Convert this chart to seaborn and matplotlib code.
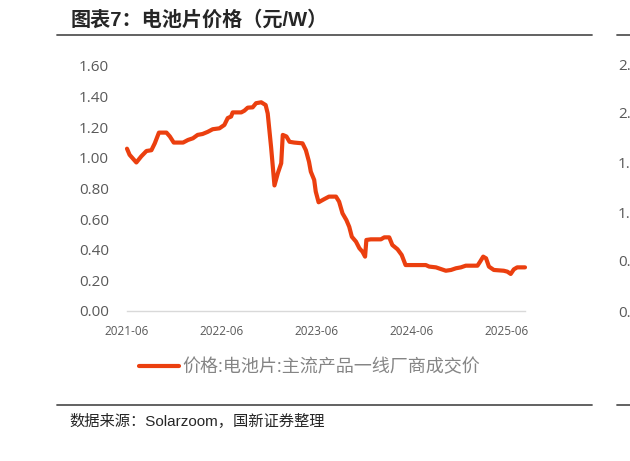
import pandas as pd
import seaborn as sns
import matplotlib.pyplot as plt
from matplotlib.lines import Line2D

# cell price (yuan/W)
dates = [
    '2021-06-02', '2021-06-12', '2021-07-08', '2021-07-27', '2021-08-16', '2021-09-04',
    '2021-09-17', '2021-10-03', '2021-11-01', '2021-11-14', '2021-11-29', '2022-01-04',
    '2022-01-23', '2022-02-11', '2022-03-01', '2022-03-20', '2022-04-09', '2022-04-28',
    '2022-05-24', '2022-06-12', '2022-06-25', '2022-07-08', '2022-07-14', '2022-08-16',
    '2022-08-28', '2022-09-10', '2022-09-29', '2022-10-12', '2022-11-01', '2022-11-18',
    '2022-11-26', '2022-12-09', '2022-12-22', '2023-01-04', '2023-01-17', '2023-01-23',
    '2023-02-06', '2023-02-18', '2023-03-08', '2023-04-09', '2023-04-22', '2023-05-04',
    '2023-05-11', '2023-05-24', '2023-05-30', '2023-06-10', '2023-07-01', '2023-07-20',
    '2023-08-16', '2023-08-28', '2023-09-10', '2023-09-25', '2023-10-06', '2023-10-16',
    '2023-11-01', '2023-11-14', '2023-11-26', '2023-12-06', '2023-12-11', '2023-12-28',
    '2024-02-05', '2024-02-18', '2024-03-08', '2024-03-20', '2024-04-09', '2024-04-25',
    '2024-05-10', '2024-07-27', '2024-08-09', '2024-09-04', '2024-09-23', '2024-10-12',
    '2024-11-01', '2024-11-20', '2024-12-09', '2024-12-28', '2025-02-11', '2025-02-21',
    '2025-03-05', '2025-03-16', '2025-03-27', '2025-04-15', '2025-05-23', '2025-06-06',
    '2025-06-19', '2025-07-01', '2025-07-14', '2025-08-13',
]
price = [
    1.06, 1.02, 0.97, 1.01, 1.045, 1.05,
    1.095, 1.165, 1.165, 1.14, 1.10, 1.10,
    1.117, 1.128, 1.15, 1.156, 1.17, 1.187,
    1.193, 1.215, 1.26, 1.27, 1.297, 1.297,
    1.308, 1.328, 1.33, 1.357, 1.363, 1.345,
    1.29, 1.07, 0.82, 0.90, 0.965, 1.15,
    1.14, 1.105, 1.10, 1.095, 1.05, 0.975,
    0.91, 0.856, 0.78, 0.71, 0.73, 0.747,
    0.747, 0.714, 0.638, 0.594, 0.55, 0.485,
    0.453, 0.41, 0.387, 0.355, 0.464, 0.468,
    0.468, 0.481, 0.481, 0.431, 0.403, 0.366,
    0.30, 0.30, 0.29, 0.285, 0.274, 0.263,
    0.268, 0.279, 0.285, 0.296, 0.296, 0.322,
    0.355, 0.344, 0.29, 0.268, 0.263, 0.257,
    0.242, 0.272, 0.285, 0.285,
]
series_name = '价格:电池片:主流产品一线厂商成交价'
y_ticks = [0.0, 0.2, 0.4, 0.6, 0.8, 1.0, 1.2, 1.4, 1.6]
x_ticks = ['2021-06-02', '2022-06-02', '2023-06-02', '2024-06-02', '2025-06-02']
x_labels = ['2021-06', '2022-06', '2023-06', '2024-06', '2025-06']
# what shows of the neighbouring chart's tick labels at the right edge
next_labels = ['2.', '2.', '1.', '1.', '0.', '0.']
next_label_y = [66, 115, 164, 214, 263, 313]

title = '图表7：电池片价格（元/W）'
source = '数据来源：Solarzoom，国新证券整理'

sns.set_theme(style='white')
plt.rcParams['font.family'] = ['Open Sans', 'Noto Sans CJK SC']

W, H = 630, 461
fig = plt.figure(figsize=(W / 100, H / 100), dpi=100)
ax = fig.add_axes([127 / W, 1 - 311 / H, (525 - 127) / W, (311 - 66) / H])

df = pd.DataFrame({'date': pd.to_datetime(dates), 'price': price})
sns.lineplot(data=df, x='date', y='price', ax=ax, color='#EB3F0F', lw=3,
             label=series_name, legend=False, clip_on=False)
ax.lines[0].set_solid_capstyle('round')
ax.lines[0].set_solid_joinstyle('round')

ax.set_xlim(df.date.min(), df.date.max())
ax.set_ylim(0, 1.6)
ax.set_yticks(y_ticks)
ax.set_yticklabels([f'{v:.2f}' for v in y_ticks])
ax.set_xticks(pd.to_datetime(x_ticks))
ax.set_xticklabels(x_labels)
ax.set_xlabel('')
ax.set_ylabel('')
ax.tick_params(axis='y', length=0, pad=13, labelsize=11, labelcolor='#595959')
ax.tick_params(axis='x', length=0, pad=10, labelsize=8.5, labelcolor='#595959')
for s in ['left', 'right', 'top']:
    ax.spines[s].set_visible(False)
ax.spines['bottom'].set_color('#d9d9d9')
ax.spines['bottom'].set_linewidth(1)
ax.grid(False)

handles, labels = ax.get_legend_handles_labels()
fig.legend(handles, labels, loc='center', bbox_to_anchor=(310 / W, 1 - 367 / H),
           frameon=False, fontsize=13, handlelength=2.2, handletextpad=0.2,
           labelcolor='#858585')

# title, rules and source line of the report page
fig.text(71 / W, 1 - 20 / H, title, fontsize=14.5, fontweight='bold', va='center',
         family=['Liberation Sans', 'Noto Sans CJK SC'])
fig.text(69 / W, 1 - 421 / H, source, fontsize=11, va='center',
         family=['Liberation Sans', 'Noto Sans CJK SC'])
for yy in [35, 405]:
    fig.add_artist(Line2D([57 / W, 592 / W], [1 - yy / H] * 2, color='#555555', lw=1.3))
    fig.add_artist(Line2D([617 / W, 1], [1 - yy / H] * 2, color='#555555', lw=1.3))
for lbl, yy in zip(next_labels, next_label_y):
    fig.text(618 / W, 1 - yy / H, lbl, fontsize=11, color='#595959', va='center')

fig.savefig('out.png', dpi=100)
